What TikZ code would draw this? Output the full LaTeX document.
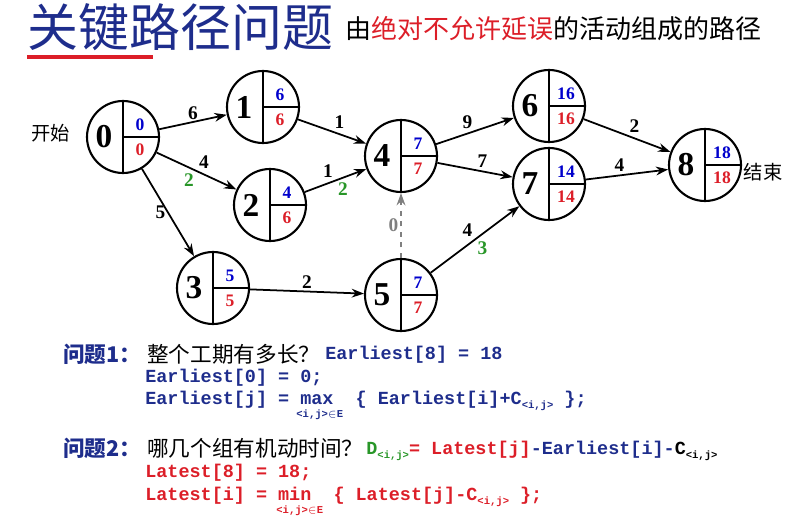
\documentclass[tikz,border=0pt]{standalone}
\usepackage{fontspec}
\setmainfont{Liberation Serif}
\setmonofont{Liberation Mono}
\newfontfamily\cjk{Noto Sans CJK SC}
\usetikzlibrary{arrows.meta,calc}
\definecolor{navy}{RGB}{30,45,140}
\definecolor{ered}{RGB}{220,30,40}
\definecolor{egreen}{RGB}{40,150,40}
\tikzset{evt/.style={circle, draw=black, line width=1.2pt, minimum size=72*0.02cm, inner sep=0pt},
  bignum/.style={font=\fontsize{19}{19}\selectfont\bfseries},
  early/.style={font=\fontsize{10}{10}\selectfont\bfseries, text=blue!80!black, inner sep=1pt},
  late/.style={font=\fontsize{10}{10}\selectfont\bfseries, text=ered, inner sep=1pt},
  act/.style={-{Stealth[length=7pt,width=5pt]}, line width=1pt},
  wlabel/.style={font=\fontsize{11}{11}\selectfont\bfseries, inner sep=1pt},
  slack/.style={wlabel, text=egreen},
  code/.style={anchor=west, inner sep=0pt, font=\fontsize{10.5}{10.5}\selectfont\ttfamily\bfseries},
  codesub/.style={anchor=west, inner sep=0pt, font=\fontsize{6}{6}\selectfont\ttfamily\bfseries},
  question/.style={anchor=west, inner sep=0pt, font=\fontsize{12.3}{12.3}\selectfont\cjk}}
\newcommand\evnode[5]{%
  \node[evt] (#1) at (#2) {};
  \draw[line width=1.2pt] (#1.north) -- (#1.south) (#1.center) -- (#1.east);
  \node[bignum] at ($(#1)+(-19,0)$) {#3};
  \node[early] at ($(#1)+(17,-12)$) {#4};
  \node[late] at ($(#1)+(17,13)$) {#5};}
\begin{document}
\begin{tikzpicture}[x=0.02cm, y=-0.02cm]
  \useasboundingbox (0,0) rectangle (800,527);
  % title
  \node[anchor=west, inner sep=0pt, text=navy, font=\fontsize{29}{29}\selectfont\cjk] (title) at (27,27) {关键路径问题};
  \draw[ered, line width=2.5pt] (27,57) -- (153,57);
  \node[anchor=west, inner sep=0pt, font=\fontsize{14.8}{14.8}\selectfont\cjk] (subtitle) at (345,29) {由\textcolor{ered}{绝对不允许延误}的活动组成的路径};
  % events
  \evnode{e0}{123,137}{0}{0}{0}
  \evnode{e1}{263,107}{1}{6}{6}
  \evnode{e2}{270,205}{2}{4}{6}
  \evnode{e3}{213,288}{3}{5}{5}
  \evnode{e4}{401,156}{4}{7}{7}
  \evnode{e5}{401,295}{5}{7}{7}
  \evnode{e6}{549,106}{6}{16}{16}
  \evnode{e7}{549,184}{7}{14}{14}
  \evnode{e8}{705,165}{8}{18}{18}
  \node[font=\fontsize{11}{11}\selectfont\cjk] (start) at (51,133) {开始};
  \node[font=\fontsize{11}{11}\selectfont\cjk] (finish) at (763,172) {结束};
  % activities
  \draw[act] (e0) -- node[wlabel, above] {6} (e1);
  \draw[act] (e0) -- node[wlabel, above right] {4} node[slack, below left] {2} (e2);
  \draw[act] (e0) -- node[wlabel, left] {5} (e3);
  \draw[act] (e1) -- node[wlabel, above right] {1} (e4);
  \draw[act] (e2) -- node[wlabel, above left] {1} node[slack, below right] {2} (e4);
  \draw[act] (e3) -- node[wlabel, above] {2} (e5);
  \draw[act, dashed, gray] (e5) -- node[wlabel, left, text=gray] {0} (e4);
  \draw[act] (e4) -- node[wlabel, above left] {9} (e6);
  \draw[act] (e4) -- node[wlabel, above right] {7} (e7);
  \draw[act] (e5) -- node[wlabel, above left] {4} node[slack, below right] {3} (e7);
  \draw[act] (e6) -- node[wlabel, above right] {2} (e8);
  \draw[act] (e7) -- node[wlabel, above left] {4} (e8);
  % questions
  \node[question, text=navy] (q1) at (63,354) {\bfseries 问题1：};
  \node[question] at (147,354) {整个工期有多长？};
  \node[code, text=navy] at (325,355) {Earliest[8] = 18};
  \node[code, text=navy] at (145,378) {Earliest[0] = 0;};
  \node[code, text=navy] at (145,401) {Earliest[j] = max\ \ \{ Earliest[i]+C\raisebox{-2pt}{\fontsize{6}{6}\selectfont<i,j>} \};};
  \node[codesub, text=navy] at (296,415) {<i,j>\(\in\)E};
  \node[question, text=navy] (q2) at (63,448) {\bfseries 问题2：};
  \node[question] at (147,448) {哪几个组有机动时间？};
  \node[code] at (366,451) {\textcolor{egreen}{D\raisebox{-2pt}{\fontsize{6}{6}\selectfont<i,j>}}\textcolor{ered}{= Latest[j]}\textcolor{navy}{-Earliest[i]-}C\raisebox{-2pt}{\fontsize{6}{6}\selectfont<i,j>}};
  \node[code, text=ered] at (145,473) {Latest[8] = 18;};
  \node[code, text=ered] at (145,497) {Latest[i] = min\ \ \{ Latest[j]-C\raisebox{-2pt}{\fontsize{6}{6}\selectfont<i,j>} \};};
  \node[codesub, text=ered] at (276,511) {<i,j>\(\in\)E};
\end{tikzpicture}
\end{document}
